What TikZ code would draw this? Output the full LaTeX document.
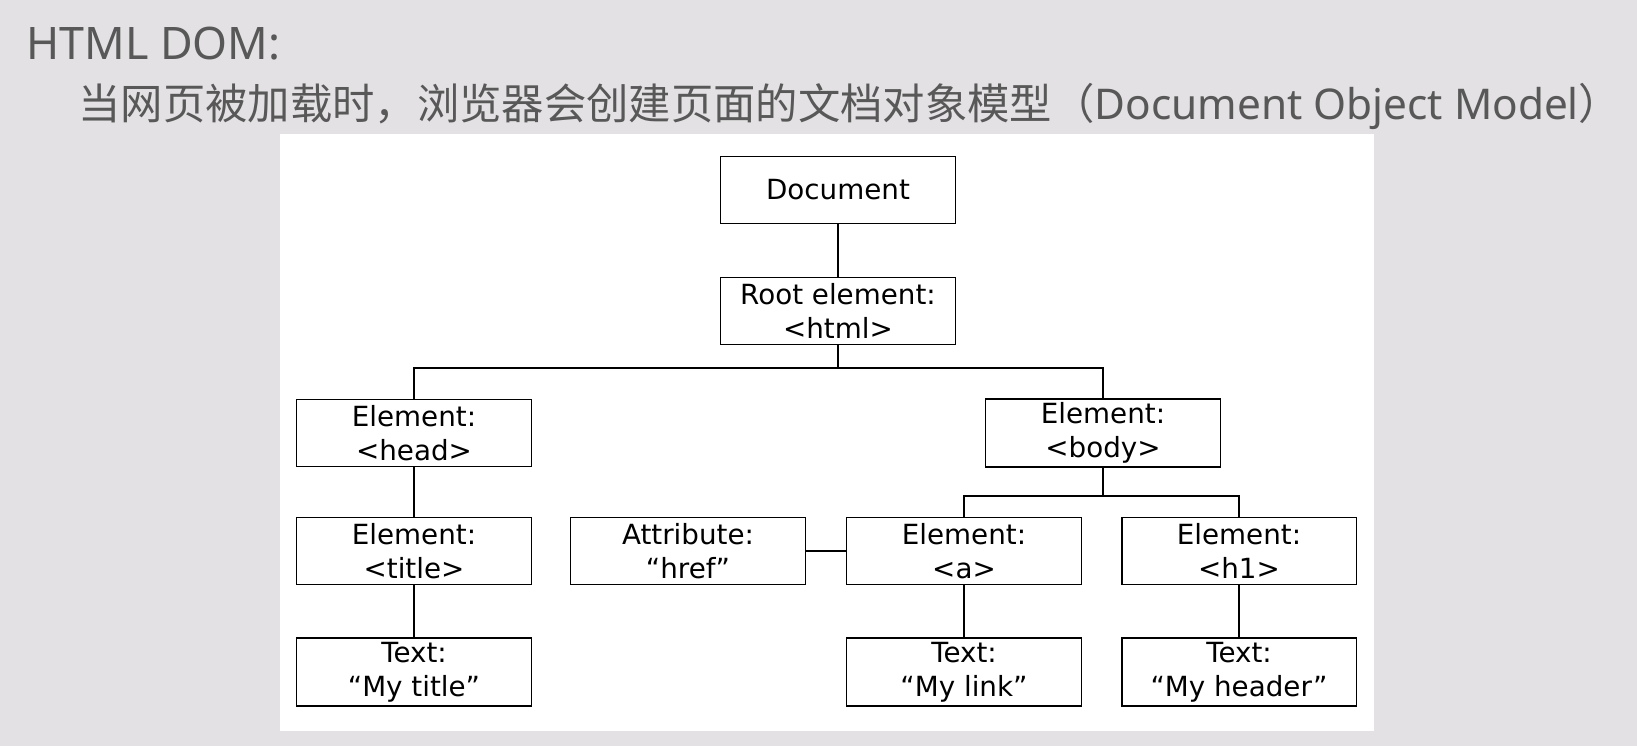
\documentclass[tikz,border=0pt]{standalone}
\usepackage{fontspec}
\setmainfont{DejaVu Sans}
\newfontfamily\cjk{Noto Sans CJK SC}
\newfontfamily\latin{Noto Sans}
\usetikzlibrary{positioning,calc}
\definecolor{SlideGray}{RGB}{227,225,227}
\definecolor{InkGray}{RGB}{88,88,88}
\tikzset{
  dom/.style={draw=black,fill=white,line width=1.1pt,minimum width=4.7cm,minimum height=1.34cm,
    align=center,font=\fontsize{15.8}{19.5}\selectfont,inner sep=2pt},
  link/.style={draw=black,line width=1.1pt},
}

\begin{document}
\begin{tikzpicture}[x=0.02cm,y=-0.02cm]
\useasboundingbox[fill=SlideGray] (0,0) rectangle (1637,746);
\fill[white] (280,134) rectangle (1374,731);
% slide header
\node[anchor=base west,inner sep=0pt,text=InkGray,font=\latin\fontsize{25.5}{28}\selectfont] (hdr) at (26,60) {HTML DOM:};
\node[anchor=west,inner sep=0pt,text=InkGray,font=\cjk\fontsize{24.1}{28}\selectfont] (sub) at (78,106) {当网页被加载时，浏览器会创建页面的文档对象模型（{\latin Document Object Model}）};
% tree
\node[dom] (doc) at (838,190) {Document};
\node[dom] (root) at (838,311) {Root element:\\<html>};
\node[dom] (head) at (414,433) {Element:\\<head>};
\node[dom] (body) at (1103,433) {Element:\\<body>};
\node[dom] (title) at (414,551) {Element:\\<title>};
\node[dom] (attr) at (688,551) {Attribute:\\“href”};
\node[dom] (anch) at (964,551) {Element:\\<a>};
\node[dom] (hone) at (1239,551) {Element:\\<h1>};
\node[dom] (ttitle) at (414,672) {Text:\\“My title”};
\node[dom] (tlink) at (964,672) {Text:\\“My link”};
\node[dom] (thead) at (1239,672) {Text:\\“My header”};
\coordinate (bus1) at (838,368);
\coordinate (bus2) at (1103,496);
\draw[link] (doc) -- (root);
\draw[link] (root) -- (root |- bus1);
\draw[link] (head) |- (bus1) -| (body);
\draw[link] (head) -- (title);
\draw[link] (title) -- (ttitle);
\draw[link] (body) -- (bus2);
\draw[link] (anch) |- (bus2) -| (hone);
\draw[link] (attr) -- (anch);
\draw[link] (anch) -- (tlink);
\draw[link] (hone) -- (thead);
\end{tikzpicture}
\end{document}
